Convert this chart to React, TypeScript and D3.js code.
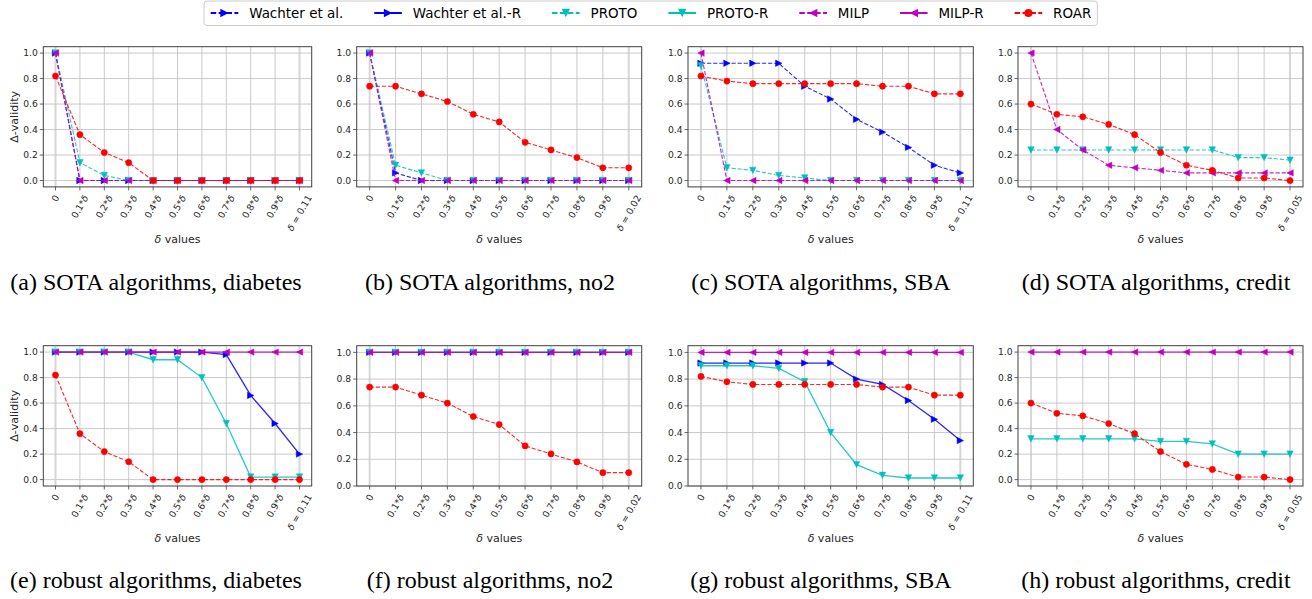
import React, { useEffect, useRef } from "react";
import * as d3 from "d3";

const W = 1312;
const H = 599;

// x categories (multipliers of delta)
const multipliers = ["0", "0.1", "0.2", "0.3", "0.4", "0.5", "0.6", "0.7", "0.8", "0.9"];
const yTicks = [0, 0.2, 0.4, 0.6, 0.8, 1.0];

// delta values per dataset
const deltaDiabetes = "0.11";
const deltaNo2 = "0.02";
const deltaSBA = "0.11";
const deltaCredit = "0.05";

// (a) SOTA, diabetes
const sotaDiabetesWachter = [1, 0, 0, 0, 0, 0, 0, 0, 0, 0, 0];
const sotaDiabetesProto = [1, 0.14, 0.04, 0, 0, 0, 0, 0, 0, 0, 0];
const sotaDiabetesMilp = [1, 0, 0, 0, 0, 0, 0, 0, 0, 0, 0];
const diabetesRoar = [0.82, 0.36, 0.22, 0.14, 0, 0, 0, 0, 0, 0, 0];

// (b) SOTA, no2
const sotaNo2Wachter = [1, 0.06, 0, 0, 0, 0, 0, 0, 0, 0, 0];
const sotaNo2Proto = [1, 0.12, 0.06, 0, 0, 0, 0, 0, 0, 0, 0];
const sotaNo2Milp = [1, 0, 0, 0, 0, 0, 0, 0, 0, 0, 0];
const no2Roar = [0.74, 0.74, 0.68, 0.62, 0.52, 0.46, 0.3, 0.24, 0.18, 0.1, 0.1];

// (c) SOTA, SBA
const sotaSBAWachter = [0.92, 0.92, 0.92, 0.92, 0.74, 0.64, 0.48, 0.38, 0.26, 0.12, 0.06];
const sotaSBAProto = [0.9, 0.1, 0.08, 0.04, 0.02, 0, 0, 0, 0, 0, 0];
const sotaSBAMilp = [1, 0, 0, 0, 0, 0, 0, 0, 0, 0, 0];
const sbaRoar = [0.82, 0.78, 0.76, 0.76, 0.76, 0.76, 0.76, 0.74, 0.74, 0.68, 0.68];

// (d) SOTA, credit
const sotaCreditProto = [0.24, 0.24, 0.24, 0.24, 0.24, 0.24, 0.24, 0.24, 0.18, 0.18, 0.16];
const sotaCreditMilp = [1, 0.4, 0.24, 0.12, 0.1, 0.08, 0.06, 0.06, 0.06, 0.06, 0.06];
const creditRoar = [0.6, 0.52, 0.5, 0.44, 0.36, 0.22, 0.12, 0.08, 0.02, 0.02, 0];

// (e) robust, diabetes
const robDiabetesWachter = [1, 1, 1, 1, 1, 1, 1, 0.98, 0.66, 0.44, 0.2];
const robDiabetesProto = [1, 1, 1, 1, 0.94, 0.94, 0.8, 0.44, 0.02, 0.02, 0.02];
const robDiabetesMilp = [1, 1, 1, 1, 1, 1, 1, 1, 1, 1, 1];

// (f) robust, no2
const robNo2Wachter = [1, 1, 1, 1, 1, 1, 1, 1, 1, 1, 1];
const robNo2Proto = [1, 1, 1, 1, 1, 1, 1, 1, 1, 1, 1];
const robNo2Milp = [1, 1, 1, 1, 1, 1, 1, 1, 1, 1, 1];

// (g) robust, SBA
const robSBAWachter = [0.92, 0.92, 0.92, 0.92, 0.92, 0.92, 0.8, 0.76, 0.64, 0.5, 0.34];
const robSBAProto = [0.9, 0.9, 0.9, 0.88, 0.78, 0.4, 0.16, 0.08, 0.06, 0.06, 0.06];
const robSBAMilp = [1, 1, 1, 1, 1, 1, 1, 1, 1, 1, 1];

// (h) robust, credit
const robCreditProto = [0.32, 0.32, 0.32, 0.32, 0.32, 0.3, 0.3, 0.28, 0.2, 0.2, 0.2];
const robCreditMilp = [1, 1, 1, 1, 1, 1, 1, 1, 1, 1, 1];

const legendNames = ["Wachter et al.", "Wachter et al.-R", "PROTO", "PROTO-R", "MILP", "MILP-R", "ROAR"];

type Style = { color: string; dashed: boolean; marker: string };
const styles: Record<string, Style> = {
  "Wachter et al.": { color: "#0000ff", dashed: true, marker: "right" },
  "Wachter et al.-R": { color: "#0000ff", dashed: false, marker: "right" },
  PROTO: { color: "#00bfbf", dashed: true, marker: "down" },
  "PROTO-R": { color: "#00bfbf", dashed: false, marker: "down" },
  MILP: { color: "#bf00bf", dashed: true, marker: "left" },
  "MILP-R": { color: "#bf00bf", dashed: false, marker: "left" },
  ROAR: { color: "#ff0000", dashed: true, marker: "circle" },
};

type Panel = {
  caption: string;
  delta: string;
  series: { name: string; values: number[] }[];
  yMin: number;
};

const panels: Panel[] = [
  {
    caption: "(a) SOTA algorithms, diabetes", delta: deltaDiabetes, yMin: -0.05,
    series: [
      { name: "Wachter et al.", values: sotaDiabetesWachter },
      { name: "PROTO", values: sotaDiabetesProto },
      { name: "MILP", values: sotaDiabetesMilp },
      { name: "ROAR", values: diabetesRoar },
    ],
  },
  {
    caption: "(b) SOTA algorithms, no2", delta: deltaNo2, yMin: -0.05,
    series: [
      { name: "Wachter et al.", values: sotaNo2Wachter },
      { name: "PROTO", values: sotaNo2Proto },
      { name: "MILP", values: sotaNo2Milp },
      { name: "ROAR", values: no2Roar },
    ],
  },
  {
    caption: "(c) SOTA algorithms, SBA", delta: deltaSBA, yMin: -0.05,
    series: [
      { name: "Wachter et al.", values: sotaSBAWachter },
      { name: "PROTO", values: sotaSBAProto },
      { name: "MILP", values: sotaSBAMilp },
      { name: "ROAR", values: sbaRoar },
    ],
  },
  {
    caption: "(d) SOTA algorithms, credit", delta: deltaCredit, yMin: -0.05,
    series: [
      { name: "PROTO", values: sotaCreditProto },
      { name: "MILP", values: sotaCreditMilp },
      { name: "ROAR", values: creditRoar },
    ],
  },
  {
    caption: "(e) robust algorithms, diabetes", delta: deltaDiabetes, yMin: -0.05,
    series: [
      { name: "Wachter et al.-R", values: robDiabetesWachter },
      { name: "PROTO-R", values: robDiabetesProto },
      { name: "MILP-R", values: robDiabetesMilp },
      { name: "ROAR", values: diabetesRoar },
    ],
  },
  {
    caption: "(f) robust algorithms, no2", delta: deltaNo2, yMin: 0,
    series: [
      { name: "Wachter et al.-R", values: robNo2Wachter },
      { name: "PROTO-R", values: robNo2Proto },
      { name: "MILP-R", values: robNo2Milp },
      { name: "ROAR", values: no2Roar },
    ],
  },
  {
    caption: "(g) robust algorithms, SBA", delta: deltaSBA, yMin: 0,
    series: [
      { name: "Wachter et al.-R", values: robSBAWachter },
      { name: "PROTO-R", values: robSBAProto },
      { name: "MILP-R", values: robSBAMilp },
      { name: "ROAR", values: sbaRoar },
    ],
  },
  {
    caption: "(h) robust algorithms, credit", delta: deltaCredit, yMin: -0.05,
    series: [
      { name: "PROTO-R", values: robCreditProto },
      { name: "MILP-R", values: robCreditMilp },
      { name: "ROAR", values: creditRoar },
    ],
  },
];

// layout
const colLeft = [43.3, 356.7, 688, 1018];
const colRight = [311.7, 641.7, 973.3, 1303];
const rowTop = [46.7, 345.7];
const rowBottom = [186.9, 486];
const xLabelY = [239.3, 538.3];
const captionCx = [156, 490, 821, 1156];
const captionY = [290, 588];

const SANS = "DejaVu Sans";
const TICK_FS = 9.2;

function markerPath(kind: string, s: number) {
  if (kind === "right") return `M${s},0L${-s},${-s}L${-s},${s}Z`;
  if (kind === "left") return `M${-s},0L${s},${-s}L${s},${s}Z`;
  if (kind === "down") return `M0,${s}L${-s},${-s}L${s},${-s}Z`;
  return d3.symbol(d3.symbolCircle, Math.PI * s * s)()!;
}

export default function App() {
  const ref = useRef<SVGSVGElement>(null);

  useEffect(() => {
    document.body.style.margin = "0";
    const svg = d3.select(ref.current!);
    svg.selectAll("*").remove();
    svg.append("rect").attr("width", W).attr("height", H).attr("fill", "white");

    panels.forEach((p, idx) => {
      const row = Math.floor(idx / 4);
      const col = idx % 4;
      const left = colLeft[col], right = colRight[col];
      const top = rowTop[row], bottom = rowBottom[row];
      const cats = [...multipliers.map((m) => m), "last"];
      const x = d3.scalePoint<string>().domain(cats).range([left, right]).padding(0.5);
      const y = d3.scaleLinear().domain([p.yMin, 1.05]).range([bottom, top]);
      const g = svg.append("g");

      // grid
      cats.forEach((c, i) => {
        g.append("line")
          .attr("x1", x(c)!).attr("x2", x(c)!).attr("y1", top).attr("y2", bottom)
          .attr("stroke", i === 0 || i === cats.length - 1 ? "#d6d6d6" : "#c4c4c4")
          .attr("stroke-width", i === 0 || i === cats.length - 1 ? 2 : 0.9);
      });
      yTicks.forEach((t) => {
        g.append("line")
          .attr("x1", left).attr("x2", right).attr("y1", y(t)).attr("y2", y(t))
          .attr("stroke", "#c4c4c4").attr("stroke-width", 0.9);
      });

      // spines
      g.append("rect")
        .attr("x", left).attr("y", top).attr("width", right - left).attr("height", bottom - top)
        .attr("fill", "none").attr("stroke", "#404040").attr("stroke-width", 1);

      // y ticks
      yTicks.forEach((t) => {
        g.append("line").attr("x1", left - 3.5).attr("x2", left).attr("y1", y(t)).attr("y2", y(t))
          .attr("stroke", "#404040").attr("stroke-width", 0.8);
        g.append("text").attr("x", left - 5.5).attr("y", y(t)).attr("dy", "0.35em")
          .attr("text-anchor", "end").attr("font-family", SANS).attr("font-size", TICK_FS)
          .attr("fill", "#262626").text(t.toFixed(1));
      });

      // x ticks
      cats.forEach((c, i) => {
        const xc = x(c)!;
        g.append("line").attr("x1", xc).attr("x2", xc).attr("y1", bottom).attr("y2", bottom + 3.5)
          .attr("stroke", "#404040").attr("stroke-width", 0.8);
        const t = g.append("text").attr("font-family", SANS).attr("font-size", TICK_FS)
          .attr("fill", "#262626").attr("text-anchor", "middle").attr("dy", "0.35em");
        if (i === 0) {
          t.append("tspan").text("0");
        } else if (i < cats.length - 1) {
          t.append("tspan").text(c + "*");
          t.append("tspan").attr("font-style", "italic").text("δ");
        } else {
          t.append("tspan").attr("font-style", "italic").text("δ");
          t.append("tspan").text(" = " + p.delta);
        }
        const w = (t.node() as SVGTextElement).getComputedTextLength();
        const h = TICK_FS * 1.1;
        const a = (60 * Math.PI) / 180;
        const bh = w * Math.sin(a) + h * Math.cos(a);
        const cy = bottom + 6.5 + bh / 2;
        t.attr("transform", `translate(${xc},${cy}) rotate(-60)`);
      });

      // axis labels
      g.append("text").attr("x", (left + right) / 2).attr("y", xLabelY[row]).attr("dy", "0.35em")
        .attr("text-anchor", "middle").attr("font-family", SANS).attr("font-size", 11).attr("fill", "#262626")
        .call((s) => {
          s.append("tspan").attr("font-style", "italic").text("δ");
          s.append("tspan").text(" values");
        });
      if (col === 0) {
        g.append("text")
          .attr("transform", `translate(14,${(top + bottom) / 2}) rotate(-90)`)
          .attr("dy", "0.35em").attr("text-anchor", "middle").attr("font-family", SANS)
          .attr("font-size", 11).attr("fill", "#262626").text("Δ-validity");
      }

      // series
      p.series.forEach((s) => {
        const st = styles[s.name];
        const line = d3.line<number>().x((_, i) => x(cats[i])!).y((v) => y(v));
        g.append("path").attr("d", line(s.values)!).attr("fill", "none")
          .attr("stroke", st.color).attr("stroke-width", st.dashed ? 1.1 : 1.3)
          .attr("stroke-dasharray", st.dashed ? "4.2,1.9" : null)
          .attr("opacity", 0.85);
        s.values.forEach((v, i) => {
          g.append("path").attr("d", markerPath(st.marker, st.marker === "circle" ? 3.1 : 3.2))
            .attr("transform", `translate(${x(cats[i])},${y(v)})`)
            .attr("fill", st.color).attr("stroke", st.color).attr("stroke-width", 0.5);
        });
      });

      // caption
      svg.append("text").attr("x", captionCx[col]).attr("y", captionY[row])
        .attr("text-anchor", "middle").attr("font-family", "Liberation Serif")
        .attr("font-size", 24).attr("fill", "#000").text(p.caption);
    });

    // legend
    const lg = svg.append("g");
    const box = lg.append("rect").attr("x", 204).attr("y", 1).attr("height", 24.5).attr("rx", 3)
      .attr("fill", "white").attr("stroke", "#cccccc").attr("stroke-width", 1);
    let cx = 210.7;
    const ly = 13;
    const handle = 27.6;
    legendNames.forEach((name) => {
      const st = styles[name];
      lg.append("line").attr("x1", cx).attr("x2", cx + handle).attr("y1", ly).attr("y2", ly)
        .attr("stroke", st.color).attr("stroke-width", 2)
        .attr("stroke-dasharray", st.dashed ? "5.5,2.4" : null);
      lg.append("path").attr("d", markerPath(st.marker, st.marker === "circle" ? 4 : 4.2))
        .attr("transform", `translate(${cx + handle / 2},${ly})`).attr("fill", st.color);
      const t = lg.append("text").attr("x", cx + handle + 10.9).attr("y", ly).attr("dy", "0.35em")
        .attr("font-family", SANS).attr("font-size", 13.46).attr("fill", "#000").text(name);
      const w = (t.node() as SVGTextElement).getComputedTextLength();
      cx = cx + handle + 10.9 + w + 31;
    });
    box.attr("width", cx - 31 + 6 - 204);
  }, []);

  return <svg ref={ref} width={W} height={H} style={{ display: "block" }} />;
}
